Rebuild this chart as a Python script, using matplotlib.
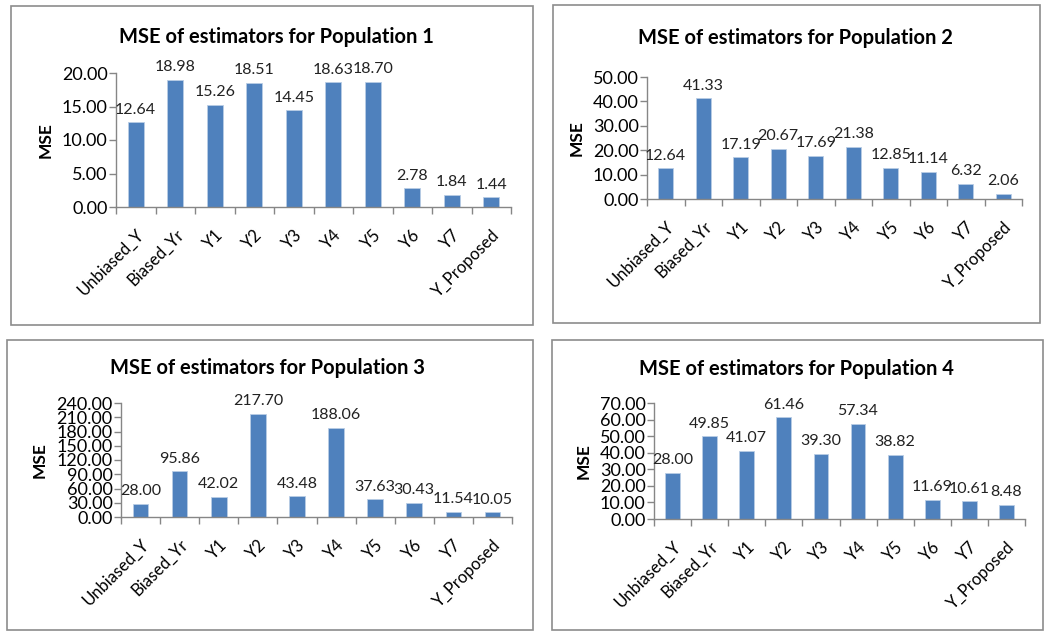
import matplotlib
matplotlib.use("Agg")
import matplotlib.pyplot as plt
from matplotlib.patches import Rectangle
from matplotlib.ticker import FormatStrFormatter, MultipleLocator, FixedLocator

plt.rcParams['font.family'] = ['Lato', 'DejaVu Sans']

categories = ["Unbiased_Y", "Biased_Yr", "Y1", "Y2", "Y3", "Y4", "Y5", "Y6", "Y7", "Y_Proposed"]
pop1 = [12.64, 18.98, 15.26, 18.51, 14.45, 18.63, 18.70, 2.78, 1.84, 1.44]
pop2 = [12.64, 41.33, 17.19, 20.67, 17.69, 21.38, 12.85, 11.14, 6.32, 2.06]
pop3 = [28.00, 95.86, 42.02, 217.70, 43.48, 188.06, 37.63, 30.43, 11.54, 10.05]
pop4 = [28.00, 49.85, 41.07, 61.46, 39.30, 57.34, 38.82, 11.69, 10.61, 8.48]
titles = ["MSE of estimators for Population 1", "MSE of estimators for Population 2",
          "MSE of estimators for Population 3", "MSE of estimators for Population 4"]
ymax = [20, 50, 240, 70]
ystep = [5, 10, 30, 10]

W, H = 1050, 639
fig = plt.figure(figsize=(W / 100, H / 100), dpi=100)

# panel boxes (x0, y0, x1, y1) in pixels from top-left
boxes = [(11, 6, 533, 325), (553, 5, 1040, 323), (7, 340, 533, 630), (552, 340, 1043, 630)]
# axes (left, top, right, bottom) pixels
axpos = [(116, 73, 511, 207), (647, 77, 1022, 199), (121, 403, 512, 517), (654, 403, 1025, 519)]
title_y = [37, 38, 368, 369]
title_x = [276, 795, 268, 796]

data = [pop1, pop2, pop3, pop4]
bar_color = "#4F81BD"
axis_color = "#868686"

for i in range(4):
    x0, y0, x1, y1 = boxes[i]
    fig.patches.append(Rectangle((x0 / W, 1 - y1 / H), (x1 - x0) / W, (y1 - y0) / H,
                                 transform=fig.transFigure, fill=False,
                                 edgecolor="#8C8C8C", linewidth=1.2))
    l, t, r, b = axpos[i]
    ax = fig.add_axes([l / W, 1 - b / H, (r - l) / W, (b - t) / H])
    n = len(categories)
    xs = list(range(n))
    ax.bar(xs, data[i], width=0.4, color=bar_color, edgecolor="#B9CDE5", linewidth=0.6, zorder=2)
    ax.set_xlim(-0.5, n - 0.5)
    ax.set_ylim(0, ymax[i])
    ax.yaxis.set_major_locator(MultipleLocator(ystep[i]))
    ax.yaxis.set_major_formatter(FormatStrFormatter("%.2f"))
    ax.set_xticks(xs)
    ax.set_xticklabels(categories, rotation=45, ha="right", va="top",
                       rotation_mode="anchor", fontsize=12)
    ax.tick_params(axis="x", length=0, pad=14)
    ax.xaxis.set_minor_locator(FixedLocator([k - 0.5 for k in range(n + 1)]))
    ax.tick_params(axis="x", which="minor", length=5, color=axis_color, width=1)
    ax.tick_params(axis="y", length=5, color=axis_color, width=1, labelsize=13, pad=1)
    for s in ["top", "right"]:
        ax.spines[s].set_visible(False)
    for s in ["left", "bottom"]:
        ax.spines[s].set_color(axis_color)
        ax.spines[s].set_linewidth(1)
    ax.set_ylabel("MSE", fontsize=12.5, fontweight="bold", labelpad=6)
    for xv, v in zip(xs, data[i]):
        ax.annotate(f"{v:.2f}", (xv, v), xytext=(0, 4), textcoords="offset points",
                    ha="center", va="bottom", fontsize=11.5, color="#222222")
    ax.patch.set_alpha(0)
    fig.text(title_x[i] / W, 1 - title_y[i] / H, titles[i], ha="center", va="center",
             fontsize=14.5, fontweight="bold")

fig.savefig("out.png", dpi=100)
